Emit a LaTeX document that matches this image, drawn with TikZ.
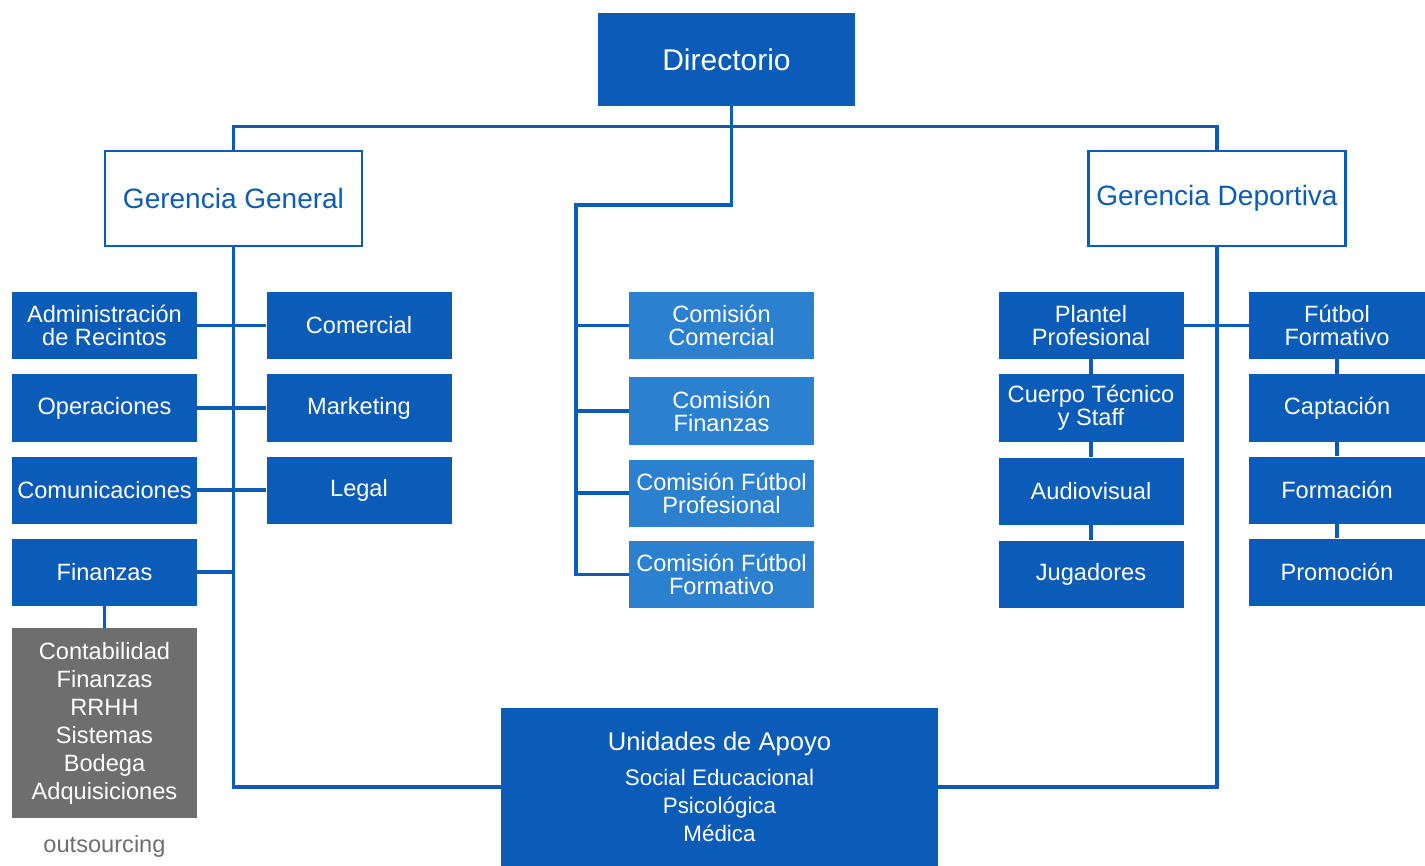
\documentclass[tikz,border=0pt]{standalone}
\usepackage{fontspec}
\setmainfont{Liberation Sans}
\definecolor{clubblue}{HTML}{0B5CB8}
\definecolor{comblue}{HTML}{2C80D0}
\definecolor{outgray}{HTML}{6E6E6E}
\newcommand{\unitfont}{\fontsize{11.8}{11.5}\selectfont}
\newcommand{\listfont}{\fontsize{11.8}{14}\selectfont}
\tikzset{
  unit/.style={fill=clubblue, text=white, align=center, inner sep=0pt,
    minimum width=92.5pt, minimum height=33.5pt, font=\unitfont},
  comision/.style={unit, fill=comblue},
  gerencia/.style={draw=clubblue, line width=1.4pt, fill=white, text=clubblue,
    inner sep=0pt, minimum width=128.5pt, minimum height=47.5pt,
    font=\fontsize{14}{14}\selectfont},
  orgline/.style={draw=clubblue, line width=1.7pt},
}

\begin{document}
\begin{tikzpicture}[x=0.5pt, y=-0.5pt]
\useasboundingbox (0,0) rectangle (1425,866);

% top level
\node [unit, minimum width=128.5pt, minimum height=46.5pt,
  font=\fontsize{15}{15}\selectfont] (dir) at (726.5,59.5) {Directorio};
\node [gerencia] (gg) at (233.5,198.5) {Gerencia General};
\node [gerencia] (gd) at (1217,198.5) {Gerencia Deportiva};

% gerencia general units
\node [unit] (adm) at (104.5,325.5) {Administración\\de Recintos};
\node [unit] (ope) at (104.5,408) {Operaciones};
\node [unit] (com) at (104.5,490) {Comunicaciones};
\node [unit] (fin) at (104.5,572) {Finanzas};
\node [unit] (cml) at (359,325.5) {Comercial};
\node [unit] (mkt) at (359,408) {Marketing};
\node [unit] (leg) at (359,490) {Legal};
\node [unit, fill=outgray, minimum height=95pt, font=\listfont] (out) at (104.5,723)
  {Contabilidad\\Finanzas\\RRHH\\Sistemas\\Bodega\\Adquisiciones};
\node [text=outgray, font=\unitfont] (outlbl) at (104.5,846) {outsourcing};

% comisiones
\node [comision] (c1) at (721.5,325.5) {Comisión\\Comercial};
\node [comision] (c2) at (721.5,411) {Comisión\\Finanzas};
\node [comision] (c3) at (721.5,493) {Comisión Fútbol\\Profesional};
\node [comision] (c4) at (721.5,574.5) {Comisión Fútbol\\Formativo};

% gerencia deportiva units
\node [unit] (pla) at (1091,325.5) {Plantel\\Profesional};
\node [unit] (cue) at (1091,408) {Cuerpo Técnico\\y Staff};
\node [unit] (aud) at (1091,491) {Audiovisual};
\node [unit] (jug) at (1091,574) {Jugadores};
\node [unit, minimum width=88pt] (ffo) at (1337,325.5) {Fútbol\\Formativo};
\node [unit, minimum width=88pt] (cap) at (1337,408) {Captación};
\node [unit, minimum width=88pt] (frm) at (1337,490) {Formación};
\node [unit, minimum width=88pt] (pro) at (1337,572) {Promoción};

% support units
\node [unit, minimum width=218.5pt, minimum height=79pt,
  font=\fontsize{11.2}{14}\selectfont] (apo) at (719.5,787)
  {{\fontsize{12.8}{14}\selectfont Unidades de Apoyo}\\[3.5pt]
   Social Educacional\\Psicológica\\Médica};

% connectors
\coordinate (cturn) at (576,205);
\draw [orgline] (gg.north) -- ++(0,-23) -| (gd.north);
\draw [orgline] ([xshift=2.5pt]dir.south) |- (cturn) |- (c4.west);
\foreach \c in {c1, c2, c3}
    \draw [orgline] (\c.west -| cturn) -- (\c.west);
\draw [orgline] (gg.south) |- (apo.west);
\draw [orgline] (gd.south) |- (apo.east);
\draw [orgline] (adm.east) -- (cml.west);
\draw [orgline] (ope.east) -- (mkt.west);
\draw [orgline] (com.east) -- (leg.west);
\draw [orgline] (fin.east) -- (fin.east -| gg.south);
\draw [orgline] (fin.south) -- (out.north);
\draw [orgline] (pla.east) -- (ffo.west);
\draw [orgline] (pla) -- (cue);
\draw [orgline] (cue) -- (aud);
\draw [orgline] (aud) -- (jug);
\draw [orgline] (ffo) -- (cap);
\draw [orgline] (cap) -- (frm);
\draw [orgline] (frm) -- (pro);

\end{tikzpicture}
\end{document}
